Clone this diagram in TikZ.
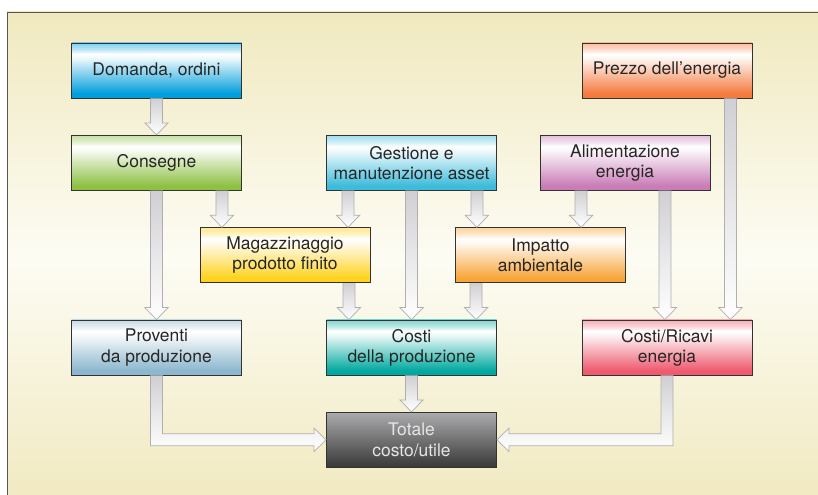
\documentclass[tikz,border=0pt]{standalone}
\usepackage{fontspec}
\setmainfont{TeX Gyre Heros}
\usetikzlibrary{calc}

\definecolor{domblue}{HTML}{009EDB}
\definecolor{congreen}{HTML}{8DC043}
\definecolor{gesblue}{HTML}{3DBBDA}
\definecolor{alipink}{HTML}{C97CB6}
\definecolor{preorange}{HTML}{F47B40}
\definecolor{magyellow}{HTML}{FFD21E}
\definecolor{impaorange}{HTML}{F8A537}
\definecolor{problue}{HTML}{8CB7CE}
\definecolor{cprteal}{HTML}{00A99F}
\definecolor{crired}{HTML}{EE5A6E}
\definecolor{totlight}{HTML}{ABABAD}
\definecolor{totdark}{HTML}{383838}
\definecolor{totext}{HTML}{E6E6E6}
\definecolor{textgray}{HTML}{262626}
\definecolor{boxline}{HTML}{333333}
\definecolor{arrowtop}{HTML}{D0D0D4}
\definecolor{arrowline}{HTML}{AFAFAF}
\definecolor{bgtop}{HTML}{F0E9BF}
\definecolor{bgmid}{HTML}{FDFCF4}
\definecolor{framegray}{HTML}{555555}
\colorlet{boxcol}{white}

\newcommand{\boxfont}{\fontsize{14.9pt}{17.2pt}\selectfont}

% light band near the top, full colour at the bottom
\pgfdeclareverticalshading[boxcol]{boxshade}{100bp}{color(0bp)=(boxcol); color(25bp)=(boxcol); color(29bp)=(boxcol); color(61bp)=(boxcol!8!white); color(65bp)=(white); color(69bp)=(boxcol!25!white); color(75bp)=(boxcol!50!white); color(100bp)=(boxcol!50!white)}

\tikzset{boxcolor/.code={\colorlet{boxcol}{#1}\pgfkeysalso{shading=boxshade}}}

\tikzstyle{frame} = [draw=framegray, line width=0.8pt, top color=bgtop, bottom color=bgtop, middle color=bgmid]
\tikzstyle{box} = [rectangle, minimum width=5.1cm, minimum height=1.65cm, text centered, align=center, draw=boxline, line width=0.7pt, text=textgray, font=\boxfont]
\tikzstyle{totbox} = [box, top color=totlight, bottom color=totdark, text=totext]
\tikzstyle{blockarrow} = [draw=arrowline, line width=0.6pt, line join=miter, top color=arrowtop, bottom color=white]
\tikzstyle{blockdown} = [blockarrow, to path={let \p1=(\tikztostart), \p2=(\tikztotarget) in
	(\x1-0.18cm,\y1) -- (\x1-0.18cm,\y2+0.36cm) -- (\x1-0.35cm,\y2+0.36cm) -- (\x1,\y2)
	-- (\x1+0.35cm,\y2+0.36cm) -- (\x1+0.18cm,\y2+0.36cm) -- (\x1+0.18cm,\y1)}]
\tikzstyle{blockright} = [blockarrow, to path={let \p1=(\tikztostart), \p2=(\tikztotarget) in
	(\x1-0.18cm,\y1) -- (\x1-0.18cm,\y2-0.18cm) -- (\x2-0.36cm,\y2-0.18cm) -- (\x2-0.36cm,\y2-0.35cm) -- (\x2,\y2)
	-- (\x2-0.36cm,\y2+0.35cm) -- (\x2-0.36cm,\y2+0.18cm) -- (\x1+0.18cm,\y2+0.18cm) -- (\x1+0.18cm,\y1)}]
\tikzstyle{blockleft} = [blockarrow, to path={let \p1=(\tikztostart), \p2=(\tikztotarget) in
	(\x1+0.18cm,\y1) -- (\x1+0.18cm,\y2-0.18cm) -- (\x2+0.36cm,\y2-0.18cm) -- (\x2+0.36cm,\y2-0.35cm) -- (\x2,\y2)
	-- (\x2+0.36cm,\y2+0.35cm) -- (\x2+0.36cm,\y2+0.18cm) -- (\x1-0.18cm,\y2+0.18cm) -- (\x1-0.18cm,\y1)}]

\begin{document}
\begin{tikzpicture}[node distance=2.77cm]
	\useasboundingbox (0,0) rectangle (24.54,-14.85);
	\path [frame] (0.21,-0.36) rectangle (25,-15.2);

	\node (dom) [box, boxcolor=domblue] at (4.695,-2.115) {Domanda, ordini};
	\node (con) [box, boxcolor=congreen, below of=dom] {Consegne};
		\draw [blockdown] (dom.south) to (con.north);
	\node (ges) [box, boxcolor=gesblue, right of=con, xshift=4.88cm] {Gestione e\\manutenzione asset};
	\node (ali) [box, boxcolor=alipink, right of=ges, xshift=3.635cm] {Alimentazione\\energia};
	\node (pre) [box, boxcolor=preorange, right of=dom, xshift=12.545cm] {Prezzo dell’energia};

	\node (mag) [box, boxcolor=magyellow, below of=con, xshift=3.855cm] {Magazzinaggio\\prodotto finito};
		\draw [blockdown] ([xshift=-0.6cm]con.south east) to (mag.north);
		\draw [blockdown] ([xshift=0.66cm]ges.south west) to (mag.north);
	\node (imp) [box, boxcolor=impaorange, below of=ges, xshift=3.87cm] {Impatto\\ambientale};
		\draw [blockdown] ([xshift=-0.6cm]ges.south east) to (imp.north);
		\draw [blockdown] ([xshift=1.245cm]ali.south west) to (imp.north);

	\node (pro) [box, boxcolor=problue, below of=con, yshift=-2.77cm] {Proventi\\da produzione};
		\draw [blockdown] (con.south) to (pro.north);
	\node (cpr) [box, boxcolor=cprteal, below of=ges, yshift=-2.77cm] {Costi\\della produzione};
		\draw [blockdown] (ges.south) to (cpr.north);
		\draw [blockdown] ([xshift=-0.645cm]mag.south east) to (cpr.north);
		\draw [blockdown] ([xshift=0.63cm]imp.south west) to (cpr.north);
	\node (cri) [box, boxcolor=crired, right of=cpr, xshift=4.895cm] {Costi/Ricavi\\energia};
		\draw [blockdown] ([xshift=-1.365cm]ali.south east) to (cri.north);
		\draw [blockdown] ([xshift=-0.66cm]pre.south east) to (cri.north);

	\node (tot) [totbox, below of=cpr] {Totale\\costo/utile};
		\draw [blockdown] (cpr.south) to (tot.north);
		\draw [blockright] (pro.south) to (tot.west);
		\draw [blockleft] (cri.south) to (tot.east);

\end{tikzpicture}
\end{document}
